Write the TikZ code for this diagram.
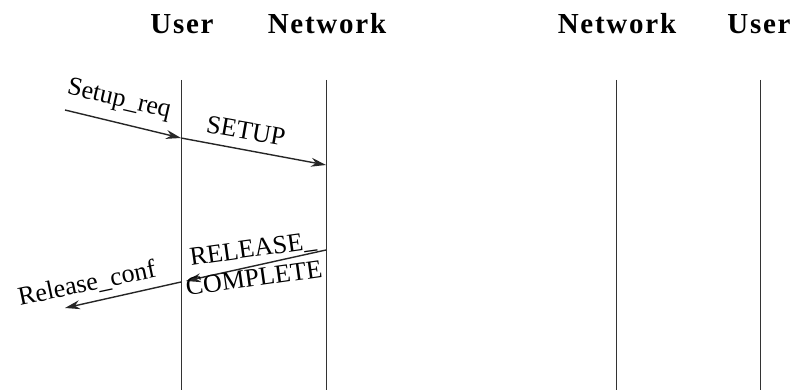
\documentclass[tikz,border=0pt]{standalone}
\usepackage{fontspec}
\setmainfont{Liberation Serif}
\usetikzlibrary{arrows.meta}
\begin{document}
\begin{tikzpicture}[x=1pt,y=1pt,
  head/.style={font=\fontsize{29}{30}\selectfont\bfseries\addfontfeature{LetterSpace=6}, anchor=base, inner sep=0pt},
  lifeline/.style={draw=black!80, line width=0.9pt},
  msg/.style={draw=black!85, line width=1.4pt, -{Stealth[length=15pt,width=9pt]}},
  lbl/.style={font=\fontsize{26}{27}\selectfont, inner sep=0pt}]
\useasboundingbox (0,0) rectangle (795,390);

% column headings
\node[head] (hu1) at (182,356) {User};
\node[head] (hn1) at (327,356) {Network};
\node[head] (hn2) at (617,356) {Network};
\node[head] (hu2) at (759,356) {User};

% lifelines
\coordinate (u1t) at (181,310); \coordinate (u1b) at (181,0);
\coordinate (n1t) at (326,310); \coordinate (n1b) at (326,0);
\coordinate (n2t) at (616,310); \coordinate (n2b) at (616,0);
\coordinate (u2t) at (760,310); \coordinate (u2b) at (760,0);
\draw[lifeline] (u1t) -- (u1b);
\draw[lifeline] (n1t) -- (n1b);
\draw[lifeline] (n2t) -- (n2b);
\draw[lifeline] (u2t) -- (u2b);

% message end points
\coordinate (req) at (65,280);
\coordinate (u1a) at (181,252);
\coordinate (n1a) at (326,225);
\coordinate (n1c) at (326,140);
\coordinate (u1c) at (186,109);
\coordinate (u1d) at (181,108);
\coordinate (conf) at (65,82);

% setup
\draw[msg] (req) -- (u1a);
\draw[msg] (u1a) -- (n1a);
\node[lbl, rotate=-13] (lreq) at (119,290) {Setup\_req};
\node[lbl, rotate=-10] (lsetup) at (246,259) {SETUP};

% release
\draw[msg] (n1c) -- (u1c);
\draw[msg] (u1d) -- (conf);
\node[lbl, rotate=8] (lrel) at (253,140) {RELEASE\_};
\node[lbl, rotate=8] (lcomp) at (254,112) {COMPLETE};
\node[lbl, rotate=12] (lconf) at (87,106) {Release\_conf};
\end{tikzpicture}
\end{document}
